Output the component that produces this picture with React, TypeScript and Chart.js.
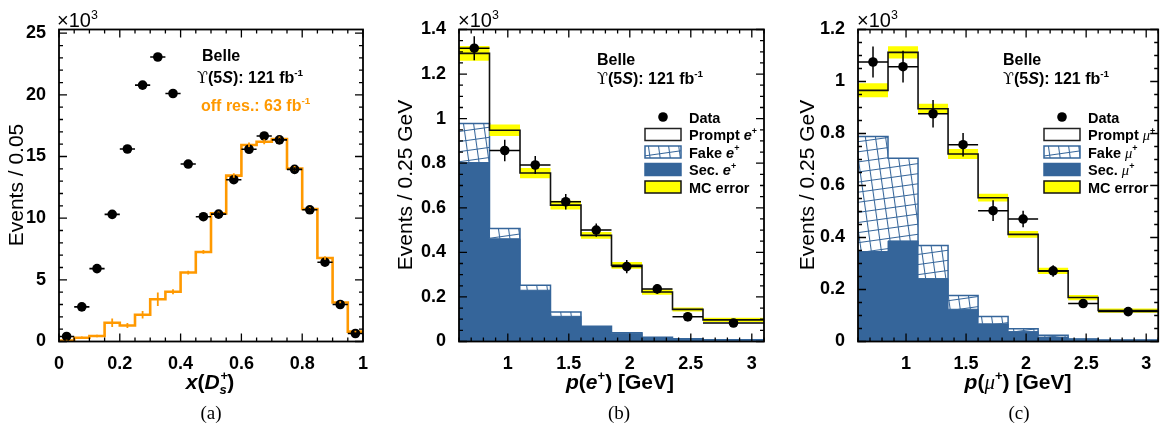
import React, { useEffect, useRef } from 'react';
import { Chart, registerables } from 'chart.js';

Chart.register(...registerables);

// ---------------- Panel (a): x(D_s+) spectrum (units of 10^3) ----------------
const edgesA = [0, 0.05, 0.1, 0.15, 0.2, 0.25, 0.3, 0.35, 0.4, 0.45, 0.5, 0.55, 0.6, 0.65, 0.7, 0.75, 0.8, 0.85, 0.9, 0.95, 1.0];
const dataA = [0.41, 2.81, 5.91, 10.31, 15.61, 20.79, 23.07, 20.11, 14.39, 10.12, 10.33, 13.12, 15.59, 16.67, 16.35, 13.96, 10.68, 6.43, 3.0, 0.65];
const dataErrA = [0.06, 0.1, 0.12, 0.15, 0.18, 0.2, 0.2, 0.2, 0.17, 0.15, 0.15, 0.16, 0.18, 0.18, 0.18, 0.17, 0.15, 0.12, 0.1, 0.06];
const offResA = [0.08, 0.3, 0.44, 1.52, 1.3, 2.17, 3.42, 4.04, 5.59, 7.26, 10.39, 13.45, 15.93, 16.2, 16.42, 14.03, 10.74, 6.77, 3.16, 0.8];
const offResErrA = [0.06, 0.1, 0.1, 0.35, 0.2, 0.3, 0.55, 0.2, 0.15, 0.15, 0.15, 0.2, 0.2, 0.2, 0.2, 0.2, 0.15, 0.15, 0.1, 0.08];
const xTicksA = [0, 0.2, 0.4, 0.6, 0.8, 1];
const yTicksA = [0, 5, 10, 15, 20, 25];

// ---------------- Panels (b), (c): lepton momentum (units of 10^3) ----------------
const edgesP = [0.6, 0.85, 1.1, 1.35, 1.6, 1.85, 2.1, 2.35, 2.6, 3.1];
const xTicksP = [1, 1.5, 2, 2.5, 3];

// (b) electrons
const dataB = [1.316, 0.857, 0.792, 0.627, 0.5, 0.336, 0.236, 0.111, 0.083];
const dataErrB = [0.054, 0.048, 0.04, 0.035, 0.03, 0.03, 0.022, 0.02, 0.012];
const secB = [0.803, 0.461, 0.23, 0.113, 0.066, 0.0375, 0.018, 0.011, 0.006];
const fakeB = [0.175, 0.046, 0.022, 0.019, 0.002, 0.0015, 0.0015, 0.001, 0.0015];
const promptB = [0.315, 0.441, 0.504, 0.48, 0.408, 0.303, 0.2025, 0.132, 0.0895];
const mcErrB = [0.033, 0.026, 0.023, 0.02, 0.015, 0.015, 0.012, 0.009, 0.01];
const yTicksB = [0, 0.2, 0.4, 0.6, 0.8, 1, 1.2, 1.4];

// (c) muons
const dataC = [1.075, 1.057, 0.876, 0.757, 0.503, 0.471, 0.2715, 0.146, 0.115];
const dataErrC = [0.06, 0.061, 0.053, 0.045, 0.04, 0.032, 0.022, 0.015, 0.012];
const secC = [0.346, 0.387, 0.242, 0.124, 0.068, 0.038, 0.017, 0.009, 0.005];
const fakeC = [0.442, 0.318, 0.127, 0.053, 0.028, 0.011, 0.007, 0.001, 0.001];
const promptC = [0.178, 0.407, 0.526, 0.544, 0.457, 0.363, 0.2475, 0.159, 0.113];
const mcErrC = [0.027, 0.024, 0.019, 0.019, 0.015, 0.013, 0.012, 0.01, 0.008];
const yTicksC = [0, 0.2, 0.4, 0.6, 0.8, 1, 1.2];

// ---------------- styling ----------------
const SANS = '"Liberation Sans", Arial, Helvetica, sans-serif';
const SERIF = '"Liberation Serif", "Times New Roman", serif';
const SYM = '"DejaVu Serif", "Liberation Serif", serif';
const BLUE = '#35659a';
const YELLOW = '#ffff00';
const ORANGE = '#ff9900';
const H = 428;
const X_AXIS_H = 40;
const TICK_FONT = { family: SANS, size: 18, weight: 'bold' as const };

type Seg = { t?: string; it?: boolean; bd?: boolean; fam?: string; sup?: boolean; sub?: boolean; supsub?: [string, string] };

const fontOf = (s: Seg, size: number, it?: boolean) =>
  `${it ?? s.it ? 'italic ' : ''}${s.bd === false ? '' : 'bold '}${size}px ${s.fam || SANS}`;

function segWidth(ctx: CanvasRenderingContext2D, s: Seg, size: number) {
  if (s.supsub) {
    ctx.font = fontOf(s, size * 0.62, false);
    const w1 = ctx.measureText(s.supsub[0]).width;
    ctx.font = fontOf(s, size * 0.62, true);
    const w2 = ctx.measureText(s.supsub[1]).width;
    return Math.max(w1, w2);
  }
  const sz = s.sup || s.sub ? size * 0.62 : size;
  ctx.font = fontOf(s, sz);
  return ctx.measureText(s.t || '').width;
}

function drawRich(ctx: CanvasRenderingContext2D, segs: Seg[], x: number, y: number, size: number, align: 'left' | 'center' = 'left', color = '#000') {
  ctx.save();
  ctx.fillStyle = color;
  ctx.textAlign = 'left';
  ctx.textBaseline = 'alphabetic';
  const total = segs.reduce((a, s) => a + segWidth(ctx, s, size), 0);
  let cx = align === 'center' ? x - total / 2 : x;
  for (const s of segs) {
    const w = segWidth(ctx, s, size);
    if (s.supsub) {
      ctx.font = fontOf(s, size * 0.62, false);
      ctx.fillText(s.supsub[0], cx + 1, y - size * 0.45);
      ctx.font = fontOf(s, size * 0.62, true);
      ctx.fillText(s.supsub[1], cx, y + size * 0.25);
    } else {
      const sz = s.sup || s.sub ? size * 0.62 : size;
      ctx.font = fontOf(s, sz);
      const dy = s.sup ? -size * 0.42 : s.sub ? size * 0.25 : 0;
      ctx.fillText(s.t || '', cx, y + dy);
    }
    cx += w;
  }
  ctx.restore();
}

function drawVertical(ctx: CanvasRenderingContext2D, text: string, x: number, y: number, size: number) {
  ctx.save();
  ctx.translate(x, y);
  ctx.rotate(-Math.PI / 2);
  ctx.font = `${size}px ${SANS}`;
  ctx.fillStyle = '#000';
  ctx.textAlign = 'center';
  ctx.textBaseline = 'middle';
  ctx.fillText(text, 0, 0);
  ctx.restore();
}

function makeHatch(): any {
  const c = document.createElement('canvas');
  c.width = 10;
  c.height = 10;
  const g = c.getContext('2d')!;
  g.strokeStyle = BLUE;
  g.lineWidth = 1.1;
  g.beginPath();
  g.moveTo(0.5, 0); g.lineTo(0.5, 10);
  g.moveTo(0, 0.5); g.lineTo(10, 0.5);
  g.stroke();
  const p = g.createPattern(c, 'repeat')!;
  try { p.setTransform(new DOMMatrix().rotate(-8)); } catch (e) { /* ignore */ }
  return p;
}

const steps = (edges: number[], vals: number[]) => edges.map((x, i) => ({ x, y: vals[Math.min(i, vals.length - 1)] }));
const centers = (edges: number[]) => edges.slice(0, -1).map((e, i) => (e + edges[i + 1]) / 2);
const add = (...arrs: number[][]) => arrs[0].map((_, i) => arrs.reduce((a, r) => a + r[i], 0));

interface ErrSet { edges: number[]; y: number[]; e: number[]; color: string; width: number; xbar: boolean }
interface Panel {
  width: number;
  area: { left: number; right: number; top: number; bottom: number };
  xMin: number; xMax: number; yMin: number; yMax: number;
  xTicks: number[]; yTicks: number[];
  xMinor: number; yMinor: number;
  errors: ErrSet[];
  texts: (ctx: CanvasRenderingContext2D) => void;
}

function drawTicks(ctx: CanvasRenderingContext2D, chart: any, p: Panel) {
  const a = chart.chartArea;
  const xs = chart.scales.x;
  const ys = chart.scales.y;
  const MAJ = 8, MIN = 4;
  ctx.save();
  ctx.strokeStyle = '#000';
  ctx.lineWidth = 1.3;
  ctx.beginPath();
  const isMajor = (v: number, arr: number[]) => arr.some((t) => Math.abs(t - v) < 1e-6);
  const nx = Math.round((p.xMax - p.xMin) / p.xMinor);
  for (let i = 0; i <= nx + 1; i++) {
    const v = Math.round((Math.ceil(p.xMin / p.xMinor - 1e-6) + i) * p.xMinor * 1e6) / 1e6;
    if (v > p.xMax + 1e-6) break;
    const len = isMajor(v, p.xTicks) ? MAJ : MIN;
    const px = xs.getPixelForValue(v);
    ctx.moveTo(px, a.bottom); ctx.lineTo(px, a.bottom - len);
    ctx.moveTo(px, a.top); ctx.lineTo(px, a.top + len);
  }
  const ny = Math.round((p.yMax - p.yMin) / p.yMinor);
  for (let i = 0; i <= ny + 1; i++) {
    const v = Math.round((p.yMin + i * p.yMinor) * 1e6) / 1e6;
    if (v > p.yMax + 1e-6) break;
    const len = isMajor(v, p.yTicks) ? MAJ : MIN;
    const py = ys.getPixelForValue(v);
    ctx.moveTo(a.left, py); ctx.lineTo(a.left + len, py);
    ctx.moveTo(a.right, py); ctx.lineTo(a.right - len, py);
  }
  ctx.stroke();
  ctx.lineWidth = 1.8;
  ctx.strokeRect(a.left, a.top, a.right - a.left, a.bottom - a.top);
  ctx.restore();
}

function drawErrors(ctx: CanvasRenderingContext2D, chart: any, errs: ErrSet[]) {
  const xs = chart.scales.x;
  const ys = chart.scales.y;
  ctx.save();
  for (const s of errs) {
    ctx.strokeStyle = s.color;
    ctx.lineWidth = s.width;
    ctx.beginPath();
    s.y.forEach((v, i) => {
      const x0 = s.edges[i], x1 = s.edges[i + 1];
      const xc = xs.getPixelForValue((x0 + x1) / 2);
      const py = ys.getPixelForValue(v);
      if (s.xbar) {
        ctx.moveTo(xs.getPixelForValue(x0), py);
        ctx.lineTo(xs.getPixelForValue(x1), py);
      }
      ctx.moveTo(xc, ys.getPixelForValue(v - s.e[i]));
      ctx.lineTo(xc, ys.getPixelForValue(v + s.e[i]));
    });
    ctx.stroke();
  }
  ctx.restore();
}

function buildConfig(p: Panel, datasets: any[]) {
  const plugin = {
    id: 'rootStyle',
    afterDatasetsDraw(chart: any) {
      const ctx = chart.ctx;
      drawErrors(ctx, chart, p.errors);
      drawTicks(ctx, chart, p);
    },
    afterDraw(chart: any) {
      p.texts(chart.ctx);
    },
  };
  return {
    type: 'line',
    data: { datasets },
    options: {
      responsive: false,
      animation: false,
      events: [],
      layout: { padding: { left: 0, right: p.width - p.area.right, top: p.area.top, bottom: H - p.area.bottom - X_AXIS_H } },
      plugins: { legend: { display: false }, tooltip: { enabled: false } },
      scales: {
        x: {
          type: 'linear', min: p.xMin, max: p.xMax,
          grid: { display: false }, border: { display: false },
          ticks: { font: TICK_FONT, color: '#000', padding: 4, maxRotation: 0, autoSkip: false, callback: (v: number) => String(v) },
          afterBuildTicks: (s: any) => { s.ticks = p.xTicks.map((value) => ({ value })); },
          afterFit: (s: any) => { s.height = X_AXIS_H; },
        },
        y: {
          type: 'linear', min: p.yMin, max: p.yMax,
          grid: { display: false }, border: { display: false },
          ticks: { font: TICK_FONT, color: '#000', padding: 5, autoSkip: false, callback: (v: number) => String(v) },
          afterBuildTicks: (s: any) => { s.ticks = p.yTicks.map((value) => ({ value })); },
          afterFit: (s: any) => { s.width = p.area.left; },
        },
      },
    },
    plugins: [plugin],
  } as any;
}

const times10: Seg[] = [{ t: '×10', bd: false }, { t: '3', sup: true, bd: false }];
const upsilon: Seg[] = [{ t: 'ϒ', bd: false, fam: SYM }, { t: '(5' }, { t: 'S', it: true }, { t: '): 121 fb' }, { t: '-1', sup: true }];

function configA() {
  const p: Panel = {
    width: 385,
    area: { left: 59, right: 363, top: 29.5, bottom: 341.5 },
    xMin: 0, xMax: 1, yMin: 0, yMax: 25.3,
    xTicks: xTicksA, yTicks: yTicksA, xMinor: 0.05, yMinor: 1,
    errors: [
      { edges: edgesA, y: offResA, e: offResErrA, color: ORANGE, width: 1.8, xbar: false },
      { edges: edgesA, y: dataA, e: dataErrA, color: '#000', width: 1.6, xbar: true },
    ],
    texts: (ctx) => {
      drawRich(ctx, times10, 57, 27, 20);
      drawRich(ctx, [{ t: 'Belle' }], 202, 61, 16);
      drawRich(ctx, upsilon, 197, 83, 16);
      drawRich(ctx, [{ t: 'off res.: 63 fb' }, { t: '-1', sup: true }], 201, 111, 16, 'left', ORANGE);
      drawVertical(ctx, 'Events / 0.05', 17, 185, 21);
      drawRich(ctx, [{ t: 'x', it: true }, { t: '(' }, { t: 'D', it: true }, { supsub: ['+', 's'] }, { t: ')' }], 210, 389, 21, 'center');
      ctx.save();
      ctx.font = `19px ${SERIF}`; ctx.fillStyle = '#000'; ctx.textAlign = 'center';
      ctx.fillText('(a)', 211, 419);
      ctx.restore();
    },
  };
  const datasets = [
    { label: 'Data', data: centers(edgesA).map((x, i) => ({ x, y: dataA[i] })), showLine: false, pointRadius: 4.8, pointBackgroundColor: '#000', pointBorderWidth: 0, order: 1 },
    { label: 'off res.', data: steps(edgesA, offResA), stepped: 'before', borderColor: ORANGE, borderWidth: 2.6, pointRadius: 0, fill: false, order: 2 },
  ];
  return buildConfig(p, datasets);
}

function configStack(which: 'b' | 'c', hatch: any) {
  const isB = which === 'b';
  const data = isB ? dataB : dataC;
  const dataErr = isB ? dataErrB : dataErrC;
  const sec = isB ? secB : secC;
  const fake = isB ? fakeB : fakeC;
  const prompt = isB ? promptB : promptC;
  const mcErr = isB ? mcErrB : mcErrC;
  const fakeTop = add(sec, fake);
  const total = add(sec, fake, prompt);
  const lep: Seg[] = isB ? [{ t: 'e', it: true }, { t: '+', sup: true }] : [{ t: 'μ', it: true, bd: false, fam: SERIF }, { t: '+', sup: true }];
  const p: Panel = {
    width: isB ? 400 : 378,
    area: isB ? { left: 74, right: 379, top: 29.5, bottom: 341.5 } : { left: 73, right: 377, top: 29.5, bottom: 341.5 },
    xMin: 0.6, xMax: 3.1, yMin: 0, yMax: isB ? 1.4 : 1.2,
    xTicks: xTicksP, yTicks: isB ? yTicksB : yTicksC, xMinor: 0.1, yMinor: 0.05,
    errors: [{ edges: edgesP, y: data, e: dataErr, color: '#000', width: 1.5, xbar: true }],
    texts: (ctx) => {
      const bx = isB ? 212 : 218;
      drawRich(ctx, times10, p.area.left - 1, 27, 20);
      drawRich(ctx, [{ t: 'Belle' }], bx, 65, 16);
      drawRich(ctx, upsilon, bx, 84, 16);
      drawVertical(ctx, 'Events / 0.25 GeV', isB ? 21 : 23, 185, 21);
      drawRich(ctx, [{ t: 'p', it: true }, { t: '(' }, ...lep, { t: ') [GeV]' }], isB ? 235 : 233, 389, 21, 'center');
      ctx.save();
      ctx.font = `19px ${SERIF}`; ctx.fillStyle = '#000'; ctx.textAlign = 'center';
      ctx.fillText(isB ? '(b)' : '(c)', 234, 419);
      ctx.restore();
      // legend
      const b0 = isB ? 260 : 259, bw = 36, tx = isB ? 304 : 303, dot = isB ? 278 : 277;
      const rows = [117, 134.5, 152, 169.5, 187];
      const labels: Seg[][] = [
        [{ t: 'Data' }],
        [{ t: 'Prompt ' }, ...lep],
        [{ t: 'Fake ' }, ...lep],
        [{ t: 'Sec. ' }, ...lep],
        [{ t: 'MC error' }],
      ];
      ctx.save();
      ctx.fillStyle = '#000';
      ctx.beginPath(); ctx.arc(dot, rows[0], 4.8, 0, Math.PI * 2); ctx.fill();
      const box = (i: number, fill: any, stroke: string) => {
        const y0 = rows[i] - 6;
        ctx.fillStyle = fill; ctx.fillRect(b0, y0, bw, 12);
        ctx.strokeStyle = stroke; ctx.lineWidth = 1.5; ctx.strokeRect(b0, y0, bw, 12);
      };
      box(1, '#fff', '#222');
      box(2, hatch, BLUE);
      box(3, BLUE, BLUE);
      box(4, YELLOW, '#111');
      ctx.restore();
      labels.forEach((l, i) => drawRich(ctx, l, tx, rows[i] + 5.5, 14.5));
    },
  };
  const datasets = [
    { label: 'Sec', data: steps(edgesP, sec), stepped: 'before', fill: 'origin', backgroundColor: BLUE, borderColor: BLUE, borderWidth: 1, pointRadius: 0, order: 7 },
    { label: 'Fake', data: steps(edgesP, fakeTop), stepped: 'before', fill: '-1', backgroundColor: hatch, borderColor: BLUE, borderWidth: 1.5, pointRadius: 0, order: 6 },
    { label: 'MC low', data: steps(edgesP, total.map((v, i) => v - mcErr[i])), stepped: 'before', fill: false, borderWidth: 0, borderColor: 'rgba(0,0,0,0)', pointRadius: 0, order: 5 },
    { label: 'MC error', data: steps(edgesP, total.map((v, i) => v + mcErr[i])), stepped: 'before', fill: '-1', backgroundColor: YELLOW, borderWidth: 0, borderColor: 'rgba(0,0,0,0)', pointRadius: 0, order: 4 },
    { label: 'Prompt', data: steps(edgesP, total), stepped: 'before', fill: false, borderColor: '#111', borderWidth: 1.6, pointRadius: 0, order: 3 },
    { label: 'Data', data: centers(edgesP).map((x, i) => ({ x, y: data[i] })), showLine: false, pointRadius: 4.8, pointBackgroundColor: '#000', pointBorderWidth: 0, order: 1 },
  ];
  return buildConfig(p, datasets);
}

export default function App() {
  const refA = useRef<HTMLCanvasElement>(null);
  const refB = useRef<HTMLCanvasElement>(null);
  const refC = useRef<HTMLCanvasElement>(null);
  useEffect(() => {
    document.body.style.margin = '0';
    const hatch = makeHatch();
    const charts = [
      new Chart(refA.current!, configA()),
      new Chart(refB.current!, configStack('b', hatch)),
      new Chart(refC.current!, configStack('c', hatch)),
    ];
    return () => charts.forEach((c) => c.destroy());
  }, []);
  return (
    <div style={{ position: 'relative', width: 1161, height: H, overflow: 'hidden', background: '#fff' }}>
      <canvas ref={refA} width={385} height={H} style={{ position: 'absolute', left: 0, top: 0 }} />
      <canvas ref={refB} width={400} height={H} style={{ position: 'absolute', left: 385, top: 0 }} />
      <canvas ref={refC} width={378} height={H} style={{ position: 'absolute', left: 785, top: 0 }} />
    </div>
  );
}
